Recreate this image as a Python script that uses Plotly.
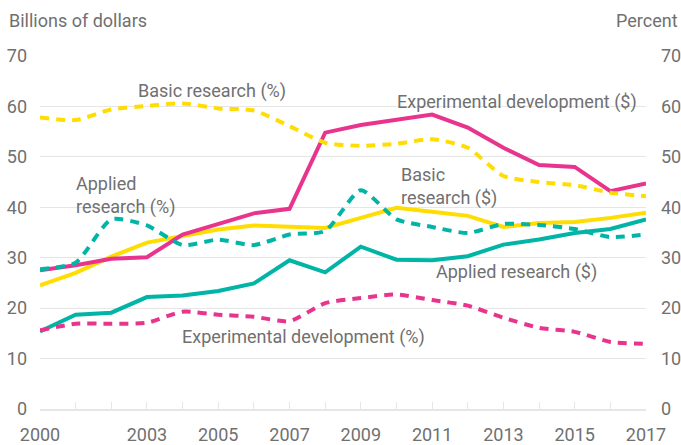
import plotly.graph_objects as go

years = list(range(2000, 2018))

exp_dev_usd = [27.5, 28.5, 29.8, 30.1, 34.6, 36.8, 38.8, 39.7, 54.8, 56.3, 57.3, 58.4, 55.8, 51.8, 48.4, 48.0, 43.2, 44.7]
basic_usd = [24.5, 27.0, 30.2, 33.0, 34.3, 35.6, 36.4, 36.1, 35.9, 37.9, 39.9, 39.1, 38.3, 36.1, 36.9, 37.1, 37.9, 38.9]
applied_usd = [15.4, 18.7, 19.1, 22.2, 22.5, 23.4, 24.9, 29.5, 27.1, 32.2, 29.6, 29.5, 30.3, 32.6, 33.6, 34.9, 35.7, 37.6]

basic_pct = [57.8, 57.3, 59.4, 60.1, 60.6, 59.6, 59.2, 56.1, 52.8, 52.2, 52.6, 53.5, 51.8, 46.2, 45.0, 44.4, 42.9, 42.2]
applied_pct = [27.7, 29.0, 37.6, 36.4, 32.5, 33.6, 32.5, 34.6, 35.3, 43.4, 37.6, 36.1, 34.9, 36.7, 36.5, 35.7, 34.1, 34.6]
exp_dev_pct = [15.6, 16.9, 16.9, 17.1, 19.3, 18.7, 18.3, 17.4, 21.0, 22.0, 22.7, 21.6, 20.5, 18.1, 16.1, 15.3, 13.3, 12.9]

labeled_years = [2000, 2003, 2005, 2007, 2009, 2011, 2013, 2015, 2017]
y_ticks = [0, 10, 20, 30, 40, 50, 60, 70]

MAGENTA = "#E9348E"
YELLOW = "#FFDD00"
TEAL = "#00B4A6"
TEXT = "#707070"
GRID = "#E6E6E6"
FONT = "Roboto"
FS = 18

fig = go.Figure()

for vals, col in [(basic_pct, YELLOW), (applied_pct, TEAL), (exp_dev_pct, MAGENTA)]:
    fig.add_trace(go.Scatter(x=years, y=vals, mode="lines", yaxis="y2",
                             line=dict(color=col, width=4, dash="9px,7px", shape="spline", smoothing=0.6),
                             showlegend=False, hoverinfo="skip"))

for vals, col in [(applied_usd, TEAL), (basic_usd, YELLOW), (exp_dev_usd, MAGENTA)]:
    fig.add_trace(go.Scatter(x=years, y=vals, mode="lines",
                             line=dict(color=col, width=4),
                             showlegend=False, hoverinfo="skip"))

labels = [
    ("Basic research (%)", 2002.69, 63.1),
    ("Applied<br>research (%)", 2000.95, 42.3),
    ("Experimental development (%)", 2003.93, 14.3),
    ("Experimental development ($)", 2009.96, 60.9),
    ("Basic<br>research ($)", 2010.07, 44.2),
    ("Applied research ($)", 2011.05, 27.2),
]
annotations = []
for txt, x, y in labels:
    annotations.append(dict(text=txt, x=x, y=y, xref="x", yref="y", xanchor="left", yanchor="middle",
                            align="left", showarrow=False, font=dict(family=FONT, size=FS, color=TEXT)))
annotations.append(dict(text="Billions of dollars", x=0, y=1, xref="paper", yref="paper",
                        xanchor="left", yanchor="middle", xshift=-33, yshift=36, showarrow=False,
                        font=dict(family=FONT, size=FS, color=TEXT)))
annotations.append(dict(text="Percent", x=1, y=1, xref="paper", yref="paper",
                        xanchor="right", yanchor="middle", xshift=34, yshift=36, showarrow=False,
                        font=dict(family=FONT, size=FS, color=TEXT)))

fig.update_layout(
    width=681, height=445,
    margin=dict(l=40, r=35, t=56, b=36, autoexpand=False),
    plot_bgcolor="white", paper_bgcolor="white",
    font=dict(family=FONT, size=FS, color=TEXT),
    xaxis=dict(range=[2000, 2017], tickvals=years,
               ticktext=[str(y) if y in labeled_years else "" for y in years],
               showgrid=False, zeroline=False, showline=True, linecolor=GRID, linewidth=2,
               ticks="inside", ticklen=7, tickcolor=GRID, tickwidth=1, automargin=False,
               ticklabelstandoff=8, tickfont=dict(size=FS, color=TEXT)),
    yaxis=dict(range=[0, 70], tickvals=y_ticks, showgrid=True, gridcolor=GRID, gridwidth=1,
               zeroline=False, showline=False, ticks="", ticklabelstandoff=12, automargin=False,
               tickfont=dict(size=FS, color=TEXT)),
    yaxis2=dict(range=[0, 70], tickvals=y_ticks, overlaying="y", side="right", showgrid=False,
                zeroline=False, showline=False, ticks="", ticklabelstandoff=14, automargin=False,
                tickfont=dict(size=FS, color=TEXT)),
    annotations=annotations,
)

fig.write_html("out.html", config={"displayModeBar": False},
               post_script="document.body.style.margin='0';document.body.style.overflow='hidden';")
